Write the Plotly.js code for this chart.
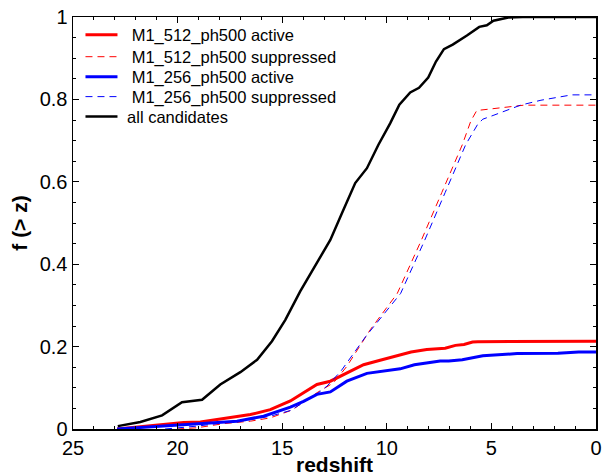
<!DOCTYPE html>
<html>
<head>
<meta charset="utf-8">
<script src="https://cdn.plot.ly/plotly-3.0.1.min.js"></script>
<style>html,body{margin:0;padding:0;background:#fff;}#chart{width:603px;height:476px;}</style>
</head>
<body>
<div id="chart"></div>
<script>
// Data
const seriesNames = ["M1_512_ph500 active", "M1_512_ph500 suppressed", "M1_256_ph500 active", "M1_256_ph500 suppressed", "all candidates"];

const z512Active = [22.89, 21.62, 19.71, 18.91, 17.64, 16.52, 15.57, 14.61, 13.98, 13.34, 12.70, 11.91, 11.11, 10.32, 9.52, 8.84, 8.09, 7.21, 6.72, 6.31, 5.9, 5.65, 0];
const f512Active = [0.0, 0.007, 0.016, 0.017, 0.027, 0.035, 0.047, 0.068, 0.088, 0.108, 0.116, 0.136, 0.156, 0.167, 0.177, 0.187, 0.193, 0.196, 0.203, 0.205, 0.211, 0.212, 0.213];

const z512Supp = [20.02, 19.07, 17.8, 16.52, 15.57, 14.53, 13.34, 12.55, 11.91, 10.79, 9.50, 8.35, 7.37, 6.39, 5.98, 5.70, 3.45, 0];
const f512Supp = [0.0, 0.003, 0.013, 0.019, 0.027, 0.046, 0.088, 0.112, 0.152, 0.241, 0.329, 0.458, 0.574, 0.690, 0.748, 0.773, 0.786, 0.786];

const z256Active = [22.89, 20.82, 18.75, 17.16, 15.89, 14.61, 13.98, 13.34, 12.70, 11.91, 10.95, 10.16, 9.36, 8.68, 7.45, 7.04, 6.39, 5.41, 3.77, 1.82, 0.83, 0];
const f256Active = [0.0, 0.007, 0.013, 0.019, 0.031, 0.053, 0.067, 0.084, 0.090, 0.116, 0.135, 0.140, 0.146, 0.156, 0.165, 0.165, 0.168, 0.178, 0.183, 0.184, 0.187, 0.187];

const z256Supp = [20.6, 19.07, 17.8, 16.5, 15.57, 14.6, 13.34, 12.86, 12.2, 11.0, 9.34, 8.19, 7.21, 6.23, 5.65, 5.41, 4.92, 3.61, 2.63, 1.16, 0];
const f256Supp = [0.0, 0.007, 0.015, 0.023, 0.031, 0.045, 0.085, 0.104, 0.14, 0.225, 0.329, 0.458, 0.574, 0.690, 0.740, 0.752, 0.761, 0.786, 0.798, 0.811, 0.811];

const zAll = [22.86, 21.78, 20.74, 19.79, 18.83, 17.96, 17.0, 16.2, 15.49, 14.85, 14.14, 13.18, 12.70, 12.14, 11.51, 10.95, 10.40, 9.84, 9.40, 8.88, 8.46, 8.02, 7.65, 7.27, 6.85, 6.17, 5.58, 5.22, 4.90, 4.19, 3.5, 0];
const fAll = [0.007, 0.017, 0.033, 0.065, 0.071, 0.108, 0.138, 0.168, 0.213, 0.265, 0.334, 0.415, 0.459, 0.524, 0.597, 0.633, 0.690, 0.742, 0.787, 0.817, 0.828, 0.853, 0.892, 0.922, 0.933, 0.955, 0.976, 0.980, 0.991, 0.999, 1.0, 1.0];

const xTickVals = [25, 20, 15, 10, 5, 0];
const xTickText = ["25", "20", "15", "10", "5", "0"];
const yTickVals = [0, 0.2, 0.4, 0.6, 0.8, 1];
const yTickText = ["0", "0.2", "0.4", "0.6", "0.8", "1"];

const FONT = "Liberation Sans, Arial, Helvetica, sans-serif";
const DASH = "7px,5px";
const NB = "\u00a0";

const traces = [
  {x: z512Active, y: f512Active, name: NB + NB + seriesNames[0], legend: "legend", mode: "lines", line: {color: "#ff0000", width: 3}},
  {x: z512Supp, y: f512Supp, name: NB + NB + seriesNames[1], legend: "legend2", mode: "lines", line: {color: "#ff0000", width: 1, dash: DASH}},
  {x: z256Active, y: f256Active, name: NB + NB + seriesNames[2], legend: "legend3", mode: "lines", line: {color: "#0000ff", width: 3}},
  {x: z256Supp, y: f256Supp, name: NB + NB + seriesNames[3], legend: "legend4", mode: "lines", line: {color: "#0000ff", width: 1, dash: DASH}},
  {x: zAll, y: fAll, name: NB + seriesNames[4], legend: "legend5", mode: "lines", line: {color: "#000000", width: 2.5}}
];

function legendAt(yPaper) {
  return {x: 0.0143, y: yPaper, xanchor: "left", yanchor: "middle", bgcolor: "rgba(0,0,0,0)", borderwidth: 0,
          font: {family: FONT, size: 16.5, color: "#000"}, itemwidth: 32};
}

const layout = {
  width: 603, height: 476,
  margin: {l: 72.5, r: 7, t: 17, b: 46.5, pad: 0},
  paper_bgcolor: "#fff", plot_bgcolor: "#fff",
  font: {family: FONT, color: "#000", size: 20},
  showlegend: true,
  legend: legendAt(0.9564),
  legend2: legendAt(0.9030),
  legend3: legendAt(0.8545),
  legend4: legendAt(0.8061),
  legend5: legendAt(0.7576),
  xaxis: {
    range: [25, 0], autorange: false,
    tickmode: "array", tickvals: xTickVals, ticktext: xTickText,
    ticks: "inside", ticklen: 6, tickwidth: 1, tickcolor: "#000",
    minor: {dtick: 1, ticks: "inside", ticklen: 3, tickcolor: "#000", tickwidth: 1},
    showline: true, linecolor: "#000", linewidth: 1.5, mirror: "ticks",
    showgrid: false, zeroline: false,
    tickfont: {family: FONT, size: 20, color: "#000"},
    title: {text: "<b>redshift</b>", font: {family: FONT, size: 21, color: "#000"}, standoff: 2}
  },
  yaxis: {
    range: [0, 1], autorange: false,
    tickmode: "array", tickvals: yTickVals, ticktext: yTickText,
    ticks: "inside", ticklen: 6, tickwidth: 1, tickcolor: "#000",
    minor: {dtick: 0.05, ticks: "inside", ticklen: 3, tickcolor: "#000", tickwidth: 1},
    showline: true, linecolor: "#000", linewidth: 1.5, mirror: "ticks",
    showgrid: false, zeroline: false,
    tickfont: {family: FONT, size: 20, color: "#000"},
    title: {text: "<b>f (> z)</b>", font: {family: FONT, size: 21, color: "#000"}, standoff: 6}
  }
};

Plotly.newPlot("chart", traces, layout, {displayModeBar: false, staticPlot: true});
</script>
</body>
</html>
